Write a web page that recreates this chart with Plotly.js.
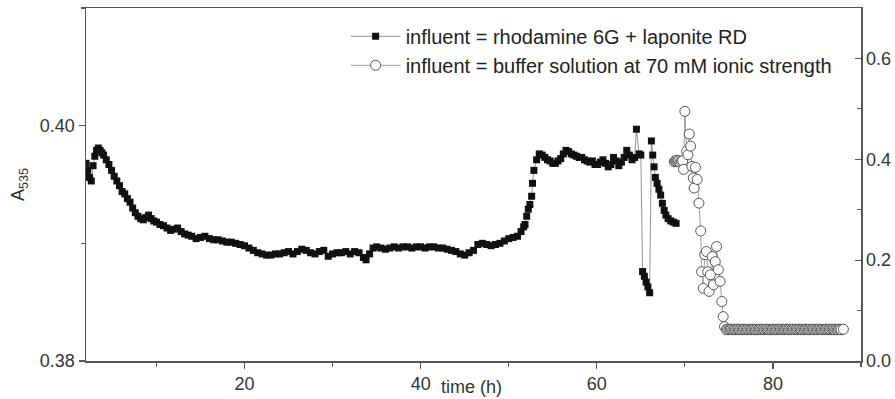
<!DOCTYPE html>
<html>
<head>
<meta charset="utf-8">
<script src="https://cdn.plot.ly/plotly-3.0.1.min.js"></script>
<style>html,body{margin:0;padding:0;background:#fff;}#chart{width:895px;height:399px;}</style>
</head>
<body>
<div id="chart"></div>
<script>
// Series 1: influent = rhodamine 6G + laponite RD (left axis, A535)
const timeRhodamine = [
 2.0,2.2,2.4,2.6,2.8,3.0,3.2,3.4,3.6,3.8,4.0,4.3,4.6,4.9,5.2,5.5,5.8,6.1,6.4,6.7,
 7.0,7.3,7.6,7.9,8.2,8.5,8.8,9.1,9.4,9.7,10.0,10.4,10.8,11.2,11.6,12.0,12.4,12.8,13.2,13.6,
 14.0,14.5,15.0,15.5,16.0,16.5,17.0,17.5,18.0,18.5,19.0,19.5,20.0,20.5,21.0,21.5,22.0,22.5,23.0,23.5,
 24.0,24.5,25.0,25.5,26.0,26.5,27.0,27.5,28.0,28.5,29.0,29.5,30.0,30.5,31.0,31.5,32.0,32.5,33.0,33.5,
 33.8,34.2,34.6,35.0,35.5,36.0,36.5,37.0,37.5,38.0,38.5,39.0,39.5,40.0,40.5,41.0,41.5,42.0,42.5,43.0,
 43.5,44.0,44.5,45.0,45.5,46.0,46.5,47.0,47.5,48.0,48.5,49.0,49.5,50.0,50.5,51.0,51.4,51.7,
 51.85,52.04,52.22,52.4,52.6,52.7,52.86,53.17,53.47,
 53.8,54.1,54.4,54.7,55.0,55.3,55.6,55.9,56.2,56.5,56.8,57.1,57.4,57.7,58.0,58.3,58.6,58.9,59.2,59.5,
 59.8,60.1,60.4,60.7,61.0,61.3,61.6,61.9,62.2,62.5,62.8,63.1,63.4,63.7,64.0,64.3,64.5,64.8,65.0,
 65.2,65.4,65.6,65.8,66.0,
 66.2,66.35,66.5,66.65,66.85,67.05,67.25,67.45,67.65,67.85,68.1,68.4,68.7,69.0
];
const absRhodamine = [
 0.3968,0.3962,0.3956,0.3953,0.3966,0.3974,0.3979,0.3981,0.3979,0.3977,0.3975,0.3971,0.3967,0.3962,0.3957,0.3953,0.3949,0.3944,0.3942,0.3938,
 0.3935,0.3930,0.3926,0.3923,0.3921,0.3920,0.3922,0.3924,0.3921,0.3919,0.3918,0.3916,0.3915,0.3913,0.3911,0.3912,0.3913,0.3910,0.3908,0.3907,
 0.3906,0.3904,0.3905,0.3906,0.3904,0.3903,0.3903,0.3902,0.3901,0.3901,0.3900,0.3899,0.3898,0.3896,0.3894,0.3892,0.3891,0.3890,0.3890,0.3891,
 0.3891,0.3892,0.3893,0.3891,0.3893,0.3895,0.3894,0.3892,0.3891,0.3893,0.3894,0.3889,0.3891,0.3892,0.3892,0.3893,0.3891,0.3893,0.3892,0.3888,
 0.3886,0.3891,0.3896,0.3897,0.3896,0.3895,0.3896,0.3897,0.3896,0.3897,0.3897,0.3896,0.3897,0.3897,0.3896,0.3897,0.3897,0.3896,0.3896,0.3895,
 0.3894,0.3893,0.3891,0.3890,0.3892,0.3894,0.3899,0.3900,0.3899,0.3898,0.3899,0.3900,0.3902,0.3904,0.3905,0.3906,0.3910,0.3914,
 0.3916,0.3923,0.3929,0.3933,0.3940,0.3951,0.3962,0.3971,0.3976,
 0.3975,0.3973,0.3971,0.3970,0.3968,0.3968,0.3970,0.3972,0.3976,0.3979,0.3978,0.3976,0.3975,0.3974,0.3973,0.3973,0.3971,0.3970,0.3969,0.3970,
 0.3967,0.3967,0.3969,0.3971,0.3968,0.3965,0.3967,0.3973,0.3970,0.3966,0.3969,0.3973,0.3979,0.3975,0.3971,0.3973,0.3997,0.3976,0.3975,
 0.3876,0.3872,0.3867,0.3863,0.3858,
 0.3987,0.3975,0.3965,0.3956,0.3951,0.3946,0.3941,0.3934,0.3928,0.3924,0.3921,0.3919,0.3918,0.3917
];

// Series 2: influent = buffer solution at 70 mM ionic strength (right axis)
const timeBuffer = [
 68.8,68.9,69.0,69.1,69.2,69.3,69.45,69.6,69.75,69.85,70.0,70.2,70.35,70.5,70.65,70.8,70.95,71.05,71.2,71.4,
 71.6,71.8,71.9,72.1,72.25,72.45,72.6,72.75,72.9,73.1,73.25,73.45,73.6,73.8,74.0,74.2,74.35,74.5,74.7,
 74.85,75.0,75.15,75.3,75.45,75.6,75.75,75.9,76.05,76.2,76.35,76.5,76.65,76.8,76.95,77.1,77.25,77.4,77.55,77.7,
 77.85,78.0,78.15,78.3,78.45,78.6,78.75,78.9,79.05,79.2,79.35,79.5,79.65,79.8,79.95,80.1,80.25,80.4,80.55,80.7,
 80.85,81.0,81.15,81.3,81.45,81.6,81.75,81.9,82.05,82.2,82.35,82.5,82.65,82.8,82.95,83.1,83.25,83.4,83.55,83.7,
 83.85,84.0,84.15,84.3,84.45,84.6,84.75,84.9,85.05,85.2,85.35,85.5,85.65,85.8,85.95,86.1,86.25,86.4,86.55,86.7,
 86.85,87.0,87.15,87.3,87.45,87.6,87.75,88.0
];
const absBuffer = [
 0.395,0.397,0.396,0.398,0.396,0.397,0.394,0.396,0.397,0.380,0.495,0.416,0.409,0.450,0.426,0.386,0.363,0.343,0.384,0.360,
 0.313,0.258,0.177,0.144,0.211,0.217,0.177,0.138,0.171,0.207,0.151,0.197,0.227,0.181,0.158,0.118,0.088,0.068,0.062,
 0.063,0.062,0.063,0.063,0.062,0.063,0.062,0.063,0.063,0.062,0.063,0.062,0.063,0.063,0.062,0.063,0.062,0.063,0.062,0.063,
 0.063,0.062,0.063,0.062,0.063,0.063,0.062,0.063,0.062,0.063,0.063,0.062,0.063,0.062,0.063,0.063,0.062,0.063,0.062,0.063,
 0.063,0.062,0.063,0.062,0.063,0.063,0.062,0.063,0.062,0.063,0.063,0.062,0.063,0.062,0.063,0.063,0.062,0.063,0.062,0.063,
 0.063,0.062,0.063,0.062,0.063,0.063,0.062,0.063,0.062,0.063,0.063,0.062,0.063,0.062,0.063,0.063,0.062,0.063,0.062,0.063,
 0.063,0.062,0.063,0.062,0.063,0.063,0.062,0.063
];

const nameRhodamine = 'influent = rhodamine 6G + laponite RD';
const nameBuffer = 'influent = buffer solution at 70 mM ionic strength';
const xTickVals = [20, 40, 60, 80];
const yLeftTickVals = [0.38, 0.40];
const yRightTickVals = [0, 0.2, 0.4, 0.6];

const axisColor = '#555';
const textColor = '#333';
const font = {family: '"Liberation Sans", Arial, sans-serif', size: 18, color: textColor};

const traces = [
  {
    x: timeRhodamine, y: absRhodamine, name: nameRhodamine, type: 'scatter', mode: 'lines+markers',
    line: {color: '#666', width: 0.7},
    marker: {symbol: 'square', size: 7, color: '#111'},
    yaxis: 'y'
  },
  {
    x: timeBuffer, y: absBuffer, name: nameBuffer, type: 'scatter', mode: 'lines+markers',
    line: {color: '#777', width: 0.7},
    marker: {symbol: 'circle', size: 10, color: '#fff', line: {color: '#555', width: 1}},
    yaxis: 'y2'
  }
];

const layout = {
  width: 895, height: 399,
  margin: {l: 86, r: 34, t: 8, b: 38},
  paper_bgcolor: '#fff', plot_bgcolor: '#fff',
  font: font,
  showlegend: true,
  legend: {
    x: 0.335, y: 0.975, xanchor: 'left', yanchor: 'top',
    bgcolor: 'rgba(0,0,0,0)', font: {family: font.family, size: 20, color: '#222'},
    itemwidth: 50, tracegroupgap: 0
  },
  xaxis: {
    range: [2, 90], showgrid: false, zeroline: false,
    showline: true, linecolor: axisColor, linewidth: 1.5, mirror: true,
    ticks: 'outside', ticklen: 6, tickcolor: axisColor, tickwidth: 1.2,
    tickvals: xTickVals, ticktext: xTickVals.map(String),
    minor: {dtick: 10, tick0: 0, ticks: 'outside', ticklen: 4, tickcolor: axisColor, tickwidth: 1.2, showgrid: false},
    tickfont: font
  },
  yaxis: {
    range: [0.38, 0.41], showgrid: false, zeroline: false,
    showline: true, linecolor: axisColor, linewidth: 1.5,
    ticks: 'outside', ticklen: 6, tickcolor: axisColor, tickwidth: 1.2,
    tickvals: yLeftTickVals, ticktext: yLeftTickVals.map(v => v.toFixed(2)),
    minor: {dtick: 0.01, tick0: 0.38, ticks: 'outside', ticklen: 4, tickcolor: axisColor, tickwidth: 1.2, showgrid: false},
    tickfont: font,
    title: {text: 'A<sub>535</sub>', font: font, standoff: 10}
  },
  yaxis2: {
    overlaying: 'y', side: 'right',
    range: [0, 0.7], showgrid: false, zeroline: false,
    showline: true, linecolor: axisColor, linewidth: 1.5,
    ticks: 'inside', ticklen: 6, tickcolor: axisColor, tickwidth: 1.2,
    tickvals: yRightTickVals, ticktext: yRightTickVals.map(v => v.toFixed(1)),
    minor: {dtick: 0.1, tick0: 0, ticks: 'inside', ticklen: 4, tickcolor: axisColor, tickwidth: 1.2, showgrid: false},
    tickfont: font
  },
  annotations: [
    {text: 'time (h)', xref: 'paper', yref: 'paper', x: 0.497, y: -0.04, xanchor: 'center', yanchor: 'top',
     showarrow: false, font: font}
  ]
};

Plotly.newPlot('chart', traces, layout, {displayModeBar: false, staticPlot: true});
</script>
</body>
</html>
